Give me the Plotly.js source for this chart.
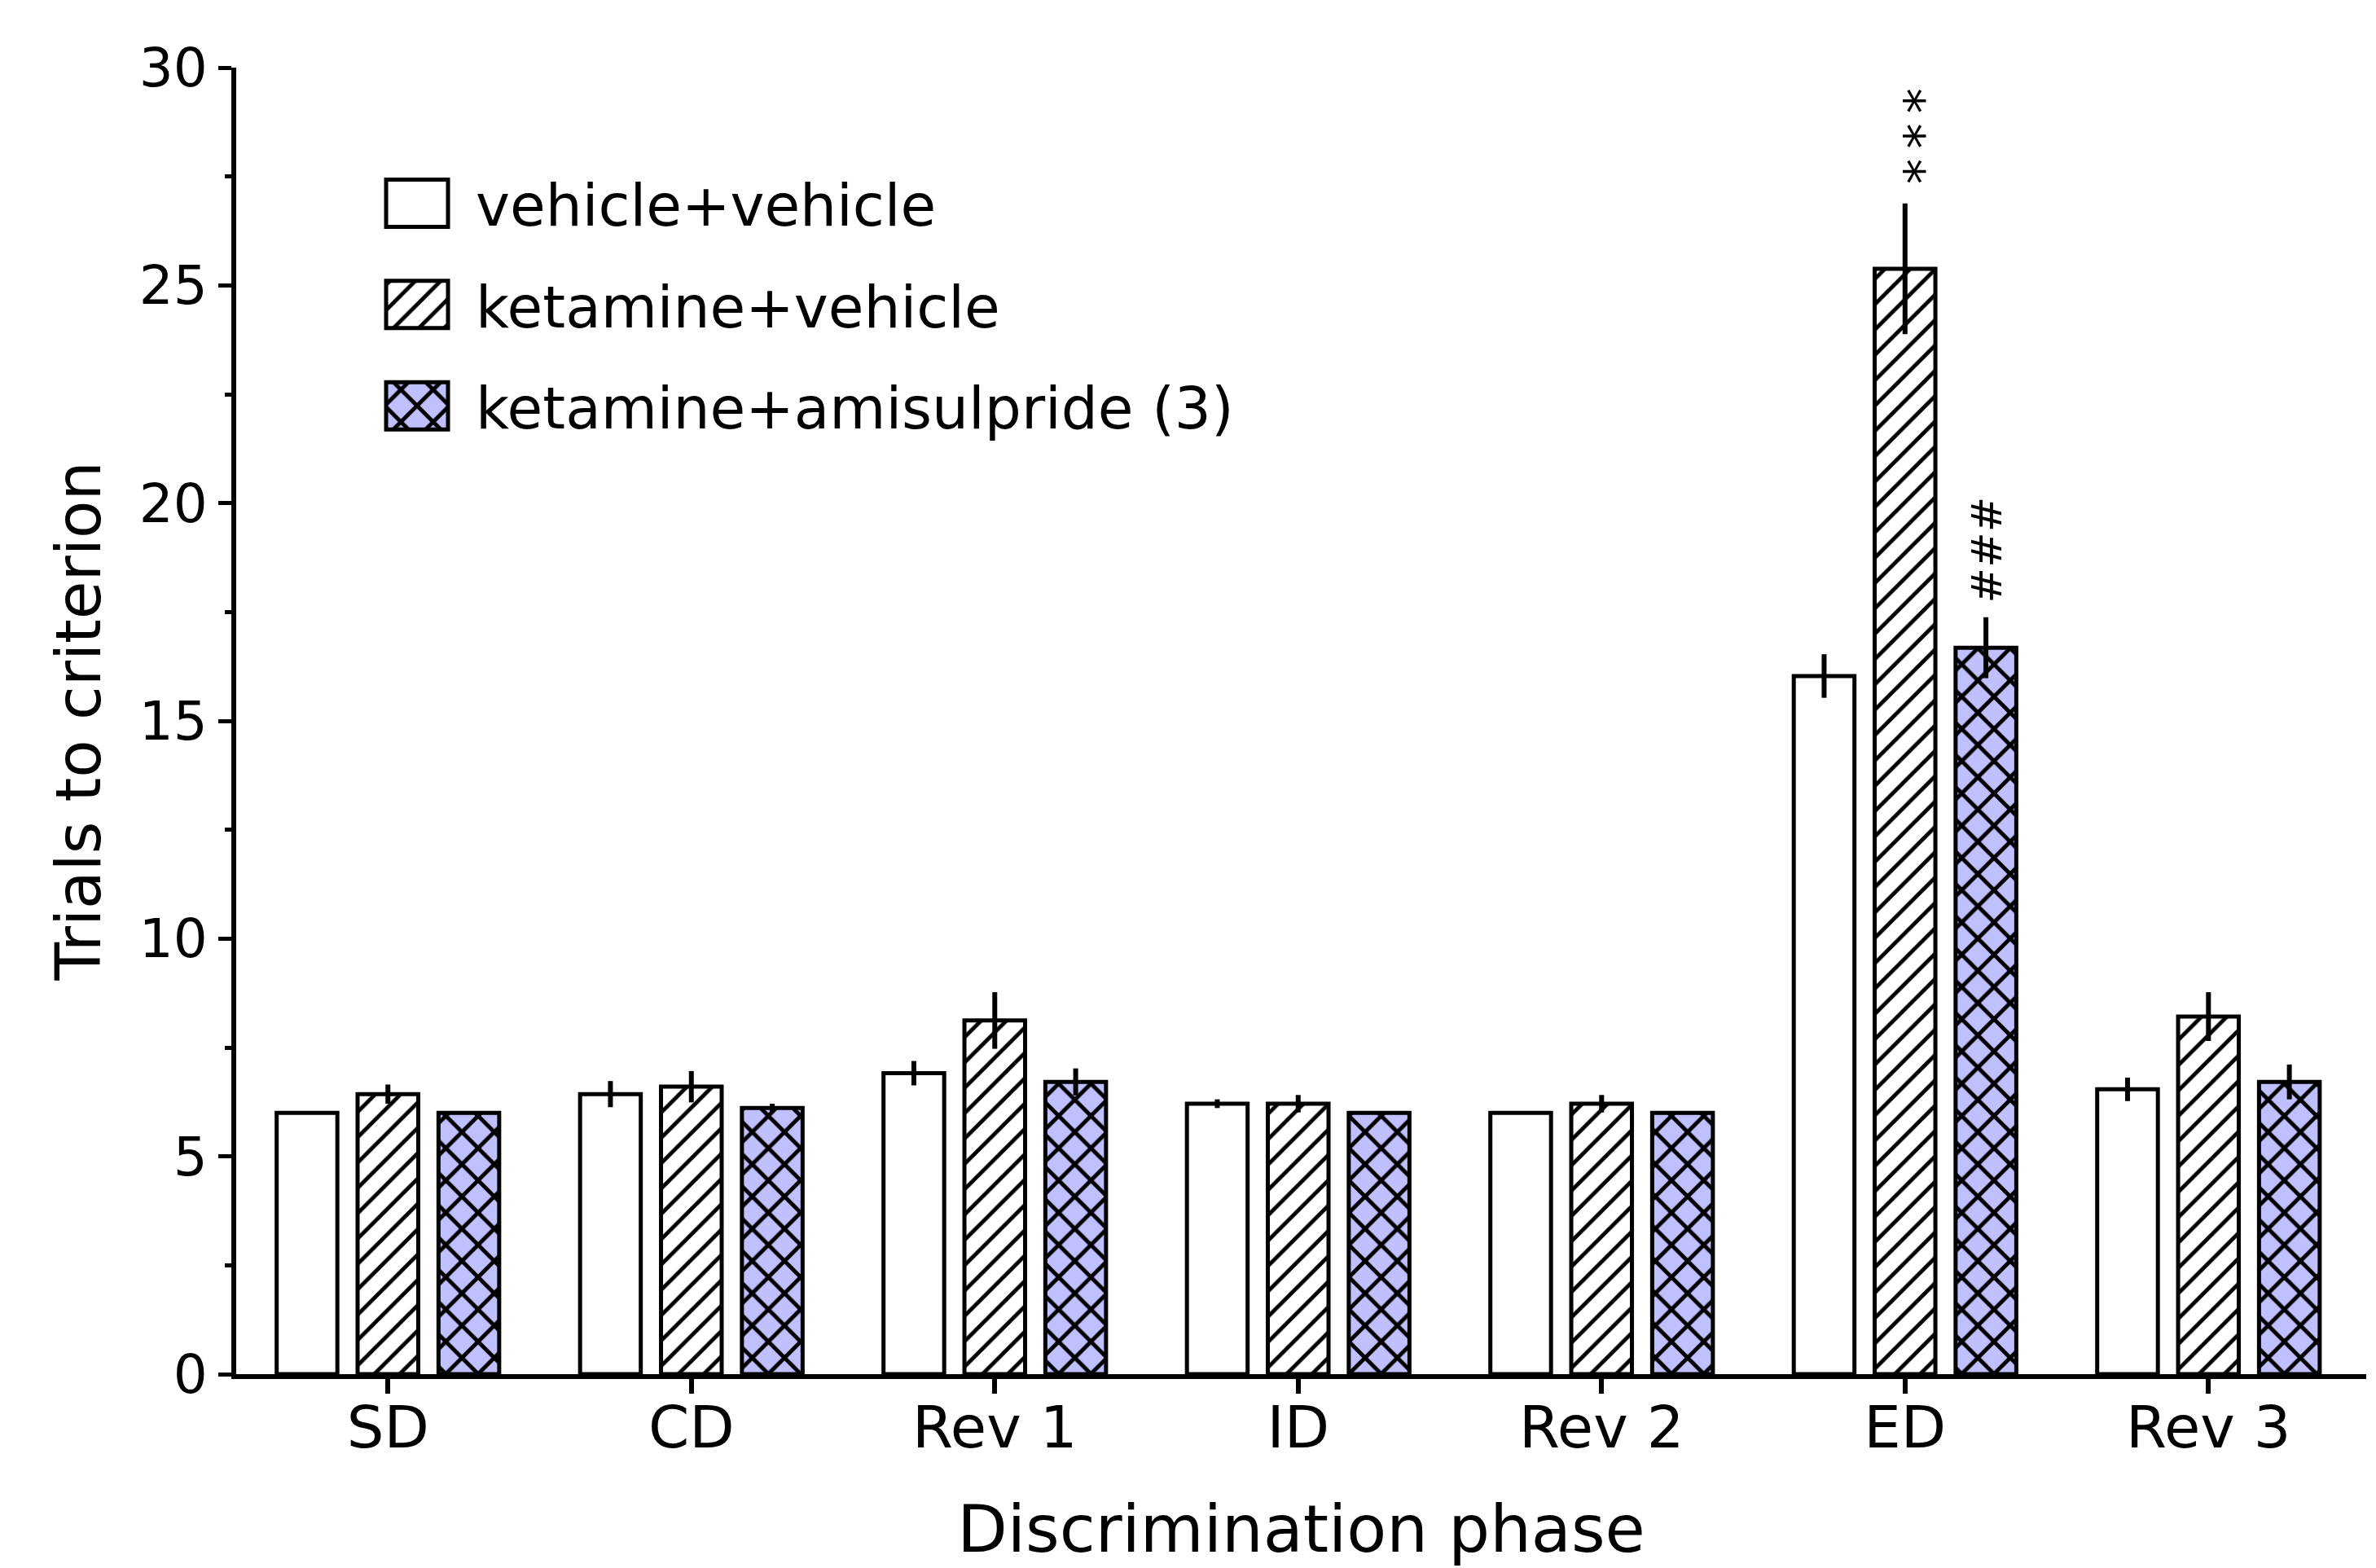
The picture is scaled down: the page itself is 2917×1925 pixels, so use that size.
<!DOCTYPE html>
<html><head><meta charset="utf-8">
<script src="https://cdn.plot.ly/plotly-3.0.1.min.js"></script>
<style>html,body{margin:0;padding:0;background:#fff;} #chart{width:2917px;height:1925px;}</style>
</head><body><div id="chart"></div>
<script>
// ---- data ----
const phases = ['SD', 'CD', 'Rev 1', 'ID', 'Rev 2', 'ED', 'Rev 3'];
const seriesNames = ['vehicle+vehicle', 'ketamine+vehicle', 'ketamine+amisulpride (3)'];
const vehVeh    = [6.0, 6.43, 6.91, 6.21, 6.0, 16.03, 6.54];
const vehVehSem = [0, 0.3, 0.28, 0.1, 0, 0.5, 0.27];
const ketVeh    = [6.43, 6.6, 8.12, 6.21, 6.21, 25.38, 8.21];
const ketVehSem = [0.22, 0.36, 0.65, 0.2, 0.2, 1.5, 0.56];
const ketAmi    = [6.0, 6.11, 6.71, 6.0, 6.0, 16.68, 6.71];
const ketAmiSem = [0, 0.1, 0.31, 0, 0, 0.7, 0.4];
const yTicks = [0, 5, 10, 15, 20, 25, 30];
const sigPhases = ['ED', 'ED'];
const sigSeries = [1, 2];
const sigLabels = ['***', '###'];

// ---- style ----
const FONT = 'DejaVu Sans, Verdana, sans-serif';
const BARGAP = 0.2, GROUPGAP = 0.25;
const values = [vehVeh, ketVeh, ketAmi];
const sems = [vehVehSem, ketVehSem, ketAmiSem];
const patterns = [
  {shape: ''},
  {shape: '/', fgcolor: '#000000', bgcolor: '#ffffff', size: 22, solidity: 0.22, fillmode: 'replace'},
  {shape: 'x', fgcolor: '#000000', bgcolor: '#c0c0ff', size: 28, solidity: 0.32, fillmode: 'replace'}
];
const fills = ['#ffffff', '#ffffff', '#c0c0ff'];

const traces = seriesNames.map((name, j) => ({
  type: 'bar',
  name: name,
  legendgroup: 'g' + j,
  x: phases,
  y: values[j],
  marker: {color: fills[j], pattern: patterns[j], line: {color: '#000000', width: 5}},
  error_y: {type: 'data', array: sems[j], symmetric: true, color: '#000000', thickness: 6, width: 0},
  hoverinfo: 'skip'
}));

const slot = (1 - BARGAP) / 3;
const annotations = sigLabels.map((lab, k) => {
  const i = phases.indexOf(sigPhases[k]);
  const j = sigSeries[k];
  const isStar = lab[0] === '*';
  return {
    x: i + (j - 1) * slot, y: values[j][i] + sems[j][i] + 1.55,
    xref: 'x', yref: 'y', showarrow: false,
    text: isStar ? lab.split('').join('\u2009') : lab,
    textangle: 90,
    font: {family: FONT, size: isStar ? 62 : 52, color: '#000000'},
    xanchor: 'center', yanchor: 'middle'
  };
});

const layout = {
  width: 2917, height: 1925,
  margin: {l: 290, r: 12, t: 83, b: 238},
  paper_bgcolor: '#ffffff', plot_bgcolor: '#ffffff',
  font: {family: FONT, color: '#000000', size: 66},
  barmode: 'group', bargap: BARGAP, bargroupgap: GROUPGAP,
  showlegend: true,
  xaxis: {
    type: 'category', range: [-0.5, 6.52], automargin: false,
    showline: true, linewidth: 6, linecolor: '#000000',
    ticks: 'outside', ticklen: 18, tickwidth: 6, tickcolor: '#000000',
    ticklabelstandoff: -20,
    tickfont: {family: FONT, size: 72, color: '#000000'},
    showgrid: false, zeroline: false,
    title: {text: 'Discrimination phase', font: {family: FONT, size: 80, color: '#000000'}, standoff: 58}
  },
  yaxis: {
    range: [0, 30], automargin: false,
    tickmode: 'array', tickvals: yTicks, ticktext: yTicks.map(String),
    showline: true, linewidth: 6, linecolor: '#000000',
    ticks: 'outside', ticklen: 16, tickwidth: 5, tickcolor: '#000000',
    minor: {tick0: 0, dtick: 2.5, ticks: 'outside', ticklen: 8, tickwidth: 5, tickcolor: '#000000', showgrid: false},
    tickfont: {family: FONT, size: 66, color: '#000000'},
    showgrid: false, zeroline: false,
    title: {text: 'Trials to criterion', font: {family: FONT, size: 76, color: '#000000'}, standoff: 24}
  },
  legend: {
    x: 0.0677, y: 0.929, xanchor: 'left', yanchor: 'top',
    font: {family: FONT, size: 71, color: '#000000'},
    itemwidth: 107, tracegroupgap: 29, traceorder: 'grouped',
    bgcolor: 'rgba(0,0,0,0)', borderwidth: 0
  },
  annotations: annotations
};

const gd = document.getElementById('chart');

function fixLegend() {
  const items = gd.querySelectorAll('.legend .traces');
  const barTraces = gd.querySelectorAll('.barlayer .trace');
  items.forEach((it, i) => {
    const p = it.querySelector('.legendpoints path');
    if (!p) return;
    p.setAttribute('d', 'M-38,-29H38V29H-38Z');
    p.setAttribute('transform', 'translate(45,0)');
    const bt = barTraces[i] && barTraces[i].querySelector('path');
    if (bt && bt.style.fill) p.style.fill = bt.style.fill;
    p.style.stroke = '#000000';
    p.style.strokeWidth = '5px';
  });
}

Plotly.newPlot(gd, traces, layout, {staticPlot: true, displayModeBar: false}).then(() => {
  fixLegend();
  gd.on && gd.on('plotly_afterplot', fixLegend);
});
</script>
</body></html>
